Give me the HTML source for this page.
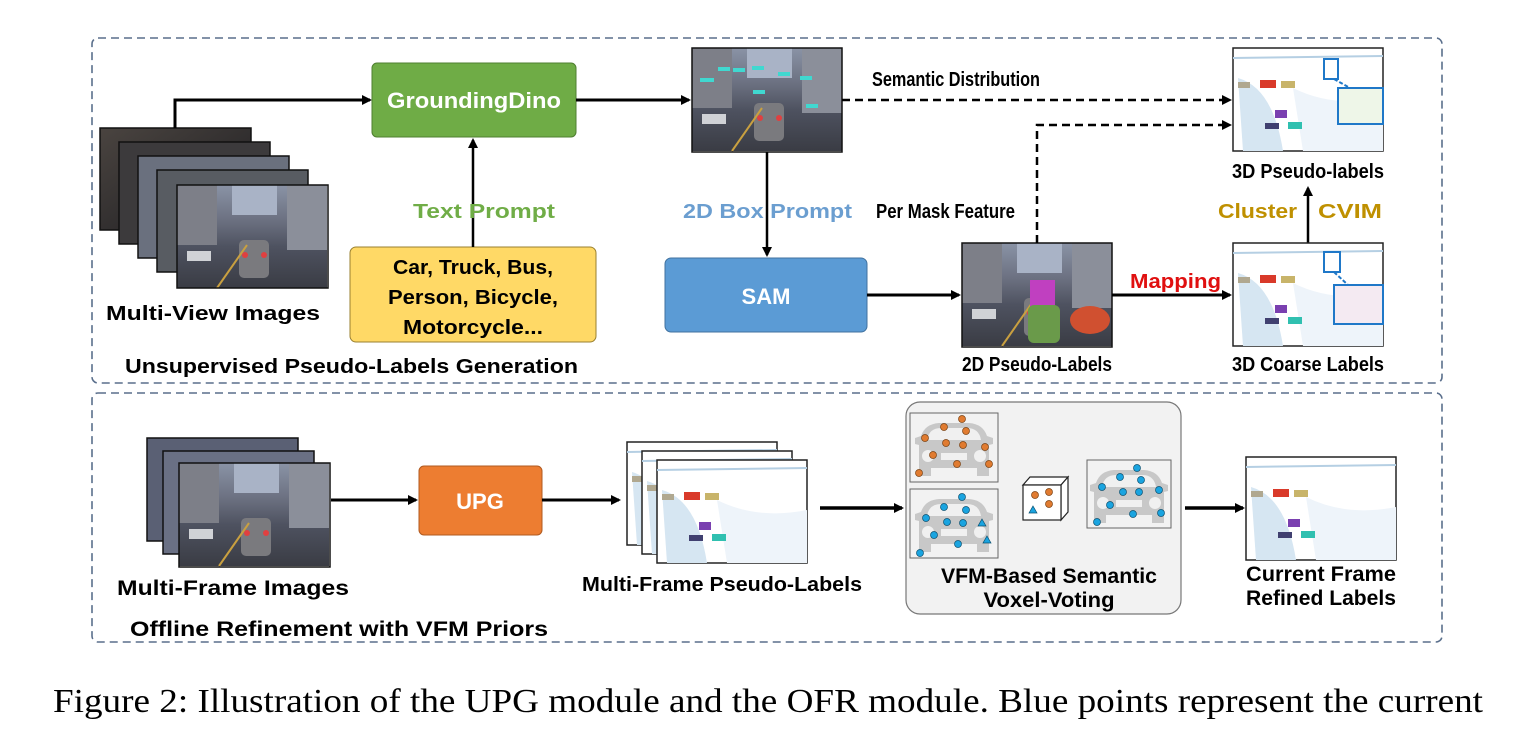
<!DOCTYPE html>
<html><head><meta charset="utf-8">
<style>html,body{margin:0;padding:0;background:#fff;}svg{display:block;}
text{font-family:"Liberation Sans",sans-serif;font-weight:bold;}
</style></head><body>
<svg width="1527" height="748" viewBox="0 0 1527 748" xmlns="http://www.w3.org/2000/svg">
<defs>
<marker id="ah" markerWidth="10" markerHeight="10" refX="8" refY="5" orient="auto" markerUnits="userSpaceOnUse"><path d="M0,0 L10,5 L0,10 z" fill="#000"/></marker>
<linearGradient id="street" x1="0" y1="0" x2="0" y2="1">
<stop offset="0" stop-color="#8a93a6"/><stop offset="0.35" stop-color="#6b7080"/><stop offset="0.6" stop-color="#4e5260"/><stop offset="1" stop-color="#3a3c44"/></linearGradient>
<linearGradient id="dark" x1="0" y1="0" x2="1" y2="1">
<stop offset="0" stop-color="#4a4440"/><stop offset="1" stop-color="#1c1c20"/></linearGradient>
<g id="photo">
<rect width="150" height="103" fill="url(#street)"/>
<rect x="0" y="0" width="40" height="60" fill="#7d7f88"/>
<rect x="110" y="0" width="40" height="65" fill="#8b8f9a"/>
<rect x="55" y="0" width="45" height="30" fill="#a9b3c6"/>
<rect x="62" y="55" width="30" height="38" rx="5" fill="#7a7a7e"/>
<circle cx="68" cy="70" r="3" fill="#e04040"/><circle cx="87" cy="70" r="3" fill="#e04040"/>
<path d="M40,103 L70,60" stroke="#c9a040" stroke-width="2"/>
<rect x="10" y="66" width="24" height="10" fill="#d0d2d6"/>
</g>
<g id="pc">
<rect width="150" height="103" fill="#fff" stroke="#222" stroke-width="1.5"/>
<path d="M5,30 Q40,40 50,103 L10,103 Z" fill="#d6e6f2"/>
<path d="M0,10 L150,8" stroke="#b5cfe3" stroke-width="2"/>
<path d="M60,40 Q100,60 150,50 L150,103 L70,103 Z" fill="#eef4fa"/>
<rect x="5" y="34" width="12" height="6" fill="#b0a890"/>
<rect x="27" y="32" width="16" height="8" fill="#d93a2a"/>
<rect x="48" y="33" width="14" height="7" fill="#c8b46a"/>
<rect x="42" y="62" width="12" height="8" fill="#7a40b0"/>
<rect x="32" y="75" width="14" height="6" fill="#404070"/>
<rect x="55" y="74" width="14" height="7" fill="#30c0b0"/>
</g>
<g id="car">
<path d="M10,18 Q14,6 28,5 L58,5 Q72,6 76,18 L82,20 L82,26 L78,27 L78,58 L66,58 L66,50 L20,50 L20,58 L8,58 L8,27 L4,26 L4,20 Z" fill="#c8c8c8"/>
<path d="M16,22 Q18,10 30,10 L56,10 Q68,10 70,22 Z" fill="#f0f0f0"/>
<rect x="30" y="35" width="26" height="7" fill="#f0f0f0"/>
<circle cx="17" cy="38" r="6" fill="#f0f0f0"/><circle cx="69" cy="38" r="6" fill="#f0f0f0"/>
</g>
</defs>

<rect x="92" y="38" width="1350" height="345" rx="6" fill="none" stroke="#5a6f8c" stroke-width="1.6" stroke-dasharray="8,5"/>
<rect x="92" y="393" width="1350" height="249" rx="6" fill="none" stroke="#5a6f8c" stroke-width="1.6" stroke-dasharray="8,5"/>

<g stroke="#111" stroke-width="1.5">
<rect x="100" y="128" width="151" height="102" fill="url(#dark)"/>
<rect x="119" y="142" width="151" height="102" fill="#3c3a3c"/>
<rect x="138" y="156" width="151" height="102" fill="#6a707e"/>
<rect x="157" y="170" width="151" height="102" fill="#585c62"/>
</g>
<use href="#photo" x="177" y="185"/>
<rect x="177" y="185" width="151" height="103" fill="none" stroke="#111" stroke-width="1.5"/>
<text x="213" y="320" font-size="20" text-anchor="middle" textLength="214" lengthAdjust="spacingAndGlyphs">Multi-View Images</text>

<path d="M175,128 L175,100 L370,100" fill="none" stroke="#000" stroke-width="3" marker-end="url(#ah)"/>
<rect x="372" y="63" width="204" height="74" rx="5" fill="#6fac46" stroke="#4f7f30" stroke-width="1"/>
<text x="474" y="108" font-size="22" fill="#fff" text-anchor="middle" textLength="174" lengthAdjust="spacingAndGlyphs">GroundingDino</text>

<rect x="350" y="247" width="246" height="95" rx="6" fill="#ffd966" stroke="#9a8030" stroke-width="1"/>
<text x="473" y="274" font-size="20" text-anchor="middle" textLength="160" lengthAdjust="spacingAndGlyphs">Car, Truck, Bus,</text>
<text x="473" y="304" font-size="20" text-anchor="middle" textLength="170" lengthAdjust="spacingAndGlyphs">Person, Bicycle,</text>
<text x="473" y="334" font-size="20" text-anchor="middle" textLength="140" lengthAdjust="spacingAndGlyphs">Motorcycle...</text>
<path d="M473,247 L473,140" stroke="#000" stroke-width="2.5" marker-end="url(#ah)"/>
<text x="413" y="218" font-size="20" fill="#70ad47" textLength="142" lengthAdjust="spacingAndGlyphs">Text Prompt</text>
<text x="125" y="373" font-size="20" textLength="453" lengthAdjust="spacingAndGlyphs">Unsupervised Pseudo-Labels Generation</text>

<path d="M576,100 L689,100" stroke="#000" stroke-width="3" marker-end="url(#ah)"/>
<use href="#photo" x="692" y="48"/>
<g fill="#40d8d0"><rect x="700" y="78" width="14" height="4"/><rect x="718" y="67" width="12" height="4"/><rect x="733" y="68" width="12" height="4"/><rect x="752" y="66" width="12" height="4"/><rect x="778" y="72" width="12" height="4"/><rect x="800" y="76" width="12" height="4"/><rect x="806" y="104" width="12" height="4"/><rect x="753" y="90" width="12" height="4"/></g>
<rect x="692" y="48" width="150" height="104" fill="none" stroke="#111" stroke-width="1.5"/>

<path d="M767,152 L767,255" stroke="#000" stroke-width="2.5" marker-end="url(#ah)"/>
<text x="683" y="218" font-size="20" fill="#6b9ed0" textLength="169" lengthAdjust="spacingAndGlyphs">2D Box Prompt</text>
<rect x="665" y="258" width="202" height="74" rx="6" fill="#5b9bd5" stroke="#41729f" stroke-width="1"/>
<text x="766" y="304" font-size="22" fill="#fff" text-anchor="middle">SAM</text>

<path d="M867,295 L959,295" stroke="#000" stroke-width="3" marker-end="url(#ah)"/>
<use href="#photo" x="962" y="243"/>
<rect x="1030" y="280" width="25" height="40" fill="#c040c0"/>
<rect x="1028" y="305" width="32" height="38" rx="6" fill="#6a9a4a"/>
<ellipse cx="1090" cy="320" rx="20" ry="14" fill="#d05030"/>
<rect x="962" y="243" width="150" height="104" fill="none" stroke="#111" stroke-width="1.5"/>
<text x="1037" y="371" font-size="20" text-anchor="middle" textLength="150" lengthAdjust="spacingAndGlyphs">2D Pseudo-Labels</text>

<path d="M1037,243 L1037,125 L1230,125" fill="none" stroke="#000" stroke-width="2.5" stroke-dasharray="8,5" marker-end="url(#ah)"/>
<text x="876" y="218" font-size="20" textLength="139" lengthAdjust="spacingAndGlyphs">Per Mask Feature</text>
<path d="M842,100 L1230,100" stroke="#000" stroke-width="2.5" stroke-dasharray="8,5" marker-end="url(#ah)"/>
<text x="872" y="86" font-size="20" textLength="168" lengthAdjust="spacingAndGlyphs">Semantic Distribution</text>

<use href="#pc" x="1233" y="48"/>
<rect x="1324" y="59" width="14" height="20" fill="none" stroke="#1f78c8" stroke-width="2"/>
<rect x="1338" y="88" width="45" height="36" fill="#eef6e8" stroke="#1f78c8" stroke-width="2"/>
<path d="M1334,79 L1350,88" stroke="#1f78c8" stroke-width="2" stroke-dasharray="4,2"/>
<text x="1308" y="178" font-size="20" text-anchor="middle" textLength="152" lengthAdjust="spacingAndGlyphs">3D Pseudo-labels</text>

<path d="M1308,243 L1308,188" stroke="#000" stroke-width="2.5" marker-end="url(#ah)"/>
<text x="1218" y="218" font-size="20" fill="#bf9000" textLength="79" lengthAdjust="spacingAndGlyphs">Cluster</text>
<text x="1318" y="218" font-size="20" fill="#bf9000" textLength="64" lengthAdjust="spacingAndGlyphs">CVIM</text>

<path d="M1112,295 L1230,295" stroke="#000" stroke-width="3" marker-end="url(#ah)"/>
<text x="1130" y="288" font-size="20" fill="#e01010" textLength="91" lengthAdjust="spacingAndGlyphs">Mapping</text>
<use href="#pc" x="1233" y="243"/>
<rect x="1324" y="252" width="16" height="20" fill="none" stroke="#1f78c8" stroke-width="2"/>
<rect x="1334" y="285" width="49" height="39" fill="#f4eaf2" stroke="#1f78c8" stroke-width="2"/>
<path d="M1334,272 L1348,285" stroke="#1f78c8" stroke-width="2" stroke-dasharray="4,2"/>
<text x="1308" y="371" font-size="20" text-anchor="middle" textLength="152" lengthAdjust="spacingAndGlyphs">3D Coarse Labels</text>

<g stroke="#111" stroke-width="1.5">
<rect x="147" y="438" width="151" height="103" fill="#5a6074"/>
<rect x="163" y="451" width="151" height="103" fill="#6a7084"/>
</g>
<use href="#photo" x="179" y="463"/>
<rect x="179" y="463" width="151" height="104" fill="none" stroke="#111" stroke-width="1.5"/>
<text x="233" y="595" font-size="21" text-anchor="middle" textLength="232" lengthAdjust="spacingAndGlyphs">Multi-Frame Images</text>
<path d="M331,500 L416,500" stroke="#000" stroke-width="3" marker-end="url(#ah)"/>
<rect x="419" y="466" width="123" height="69" rx="5" fill="#ed7d31" stroke="#b05a20" stroke-width="1"/>
<text x="480" y="509" font-size="22" fill="#fff" text-anchor="middle">UPG</text>
<path d="M542,500 L619,500" stroke="#000" stroke-width="3" marker-end="url(#ah)"/>
<use href="#pc" x="627" y="442"/>
<use href="#pc" x="642" y="451"/>
<use href="#pc" x="657" y="460"/>
<text x="722" y="591" font-size="20" text-anchor="middle" textLength="280" lengthAdjust="spacingAndGlyphs">Multi-Frame Pseudo-Labels</text>
<path d="M820,508 L902,508" stroke="#000" stroke-width="3.5" marker-end="url(#ah)"/>

<rect x="906" y="402" width="275" height="212" rx="14" fill="#f2f2f2" stroke="#777" stroke-width="1.2"/>
<rect x="910" y="413" width="88" height="69" fill="#f2f2f2" stroke="#666"/>
<use href="#car" x="911" y="418"/>
<g fill="#e07b30" stroke="#7a4010" stroke-width="0.7">
<circle cx="962" cy="419" r="3.5"/><circle cx="944" cy="427" r="3.5"/><circle cx="966" cy="431" r="3.5"/><circle cx="925" cy="438" r="3.5"/><circle cx="946" cy="443" r="3.5"/><circle cx="963" cy="445" r="3.5"/><circle cx="985" cy="447" r="3.5"/><circle cx="933" cy="455" r="3.5"/><circle cx="957" cy="464" r="3.5"/><circle cx="989" cy="464" r="3.5"/><circle cx="919" cy="473" r="3.5"/></g>
<rect x="910" y="489" width="88" height="69" fill="#f2f2f2" stroke="#666"/>
<use href="#car" x="911" y="494"/>
<g fill="#1aa4e0" stroke="#0a5070" stroke-width="0.7">
<circle cx="962" cy="497" r="3.5"/><circle cx="944" cy="507" r="3.5"/><circle cx="966" cy="510" r="3.5"/><circle cx="926" cy="518" r="3.5"/><circle cx="947" cy="522" r="3.5"/><circle cx="963" cy="523" r="3.5"/><circle cx="934" cy="535" r="3.5"/><circle cx="958" cy="544" r="3.5"/><circle cx="920" cy="553" r="3.5"/></g>
<g fill="#1aa4e0" stroke="#0a5070" stroke-width="0.7"><path d="M982,519 L986,526 L978,526 Z"/><path d="M987,536 L991,543 L983,543 Z"/></g>
<g fill="#fff" stroke="#222" stroke-width="1.2">
<path d="M1023,485 L1030,477 L1068,477 L1061,485 Z"/><path d="M1061,485 L1068,477 L1068,512 L1061,520 Z"/><rect x="1023" y="485" width="38" height="35"/></g>
<g fill="#e07b30" stroke="#7a4010" stroke-width="0.7"><circle cx="1035" cy="495" r="3.5"/><circle cx="1049" cy="492" r="3.5"/><circle cx="1049" cy="504" r="3.5"/></g>
<path d="M1033,506 L1037,513 L1029,513 Z" fill="#1aa4e0" stroke="#0a5070" stroke-width="0.7"/>
<rect x="1087" y="460" width="84" height="68" fill="#f2f2f2" stroke="#666"/>
<use href="#car" x="1086" y="465"/>
<g fill="#1aa4e0" stroke="#0a5070" stroke-width="0.7">
<circle cx="1137" cy="468" r="3.5"/><circle cx="1120" cy="477" r="3.5"/><circle cx="1141" cy="480" r="3.5"/><circle cx="1102" cy="487" r="3.5"/><circle cx="1123" cy="492" r="3.5"/><circle cx="1139" cy="492" r="3.5"/><circle cx="1159" cy="490" r="3.5"/><circle cx="1110" cy="505" r="3.5"/><circle cx="1133" cy="514" r="3.5"/><circle cx="1161" cy="513" r="3.5"/><circle cx="1097" cy="522" r="3.5"/></g>
<text x="1049" y="583" font-size="21" text-anchor="middle" textLength="216" lengthAdjust="spacingAndGlyphs">VFM-Based Semantic</text>
<text x="1049" y="607" font-size="21" text-anchor="middle" textLength="131" lengthAdjust="spacingAndGlyphs">Voxel-Voting</text>

<path d="M1185,508 L1243,508" stroke="#000" stroke-width="3.5" marker-end="url(#ah)"/>
<use href="#pc" x="1246" y="457"/>
<text x="1321" y="581" font-size="21" text-anchor="middle" textLength="150" lengthAdjust="spacingAndGlyphs">Current Frame</text>
<text x="1321" y="605" font-size="21" text-anchor="middle" textLength="150" lengthAdjust="spacingAndGlyphs">Refined Labels</text>
<text x="130" y="636" font-size="21" textLength="418" lengthAdjust="spacingAndGlyphs">Offline Refinement with VFM Priors</text>

<text x="53" y="712" font-size="34" style="font-family:'Liberation Serif',serif;font-weight:normal" textLength="1430" lengthAdjust="spacingAndGlyphs">Figure 2: Illustration of the UPG module and the OFR module. Blue points represent the current</text>
</svg>
</body></html>
